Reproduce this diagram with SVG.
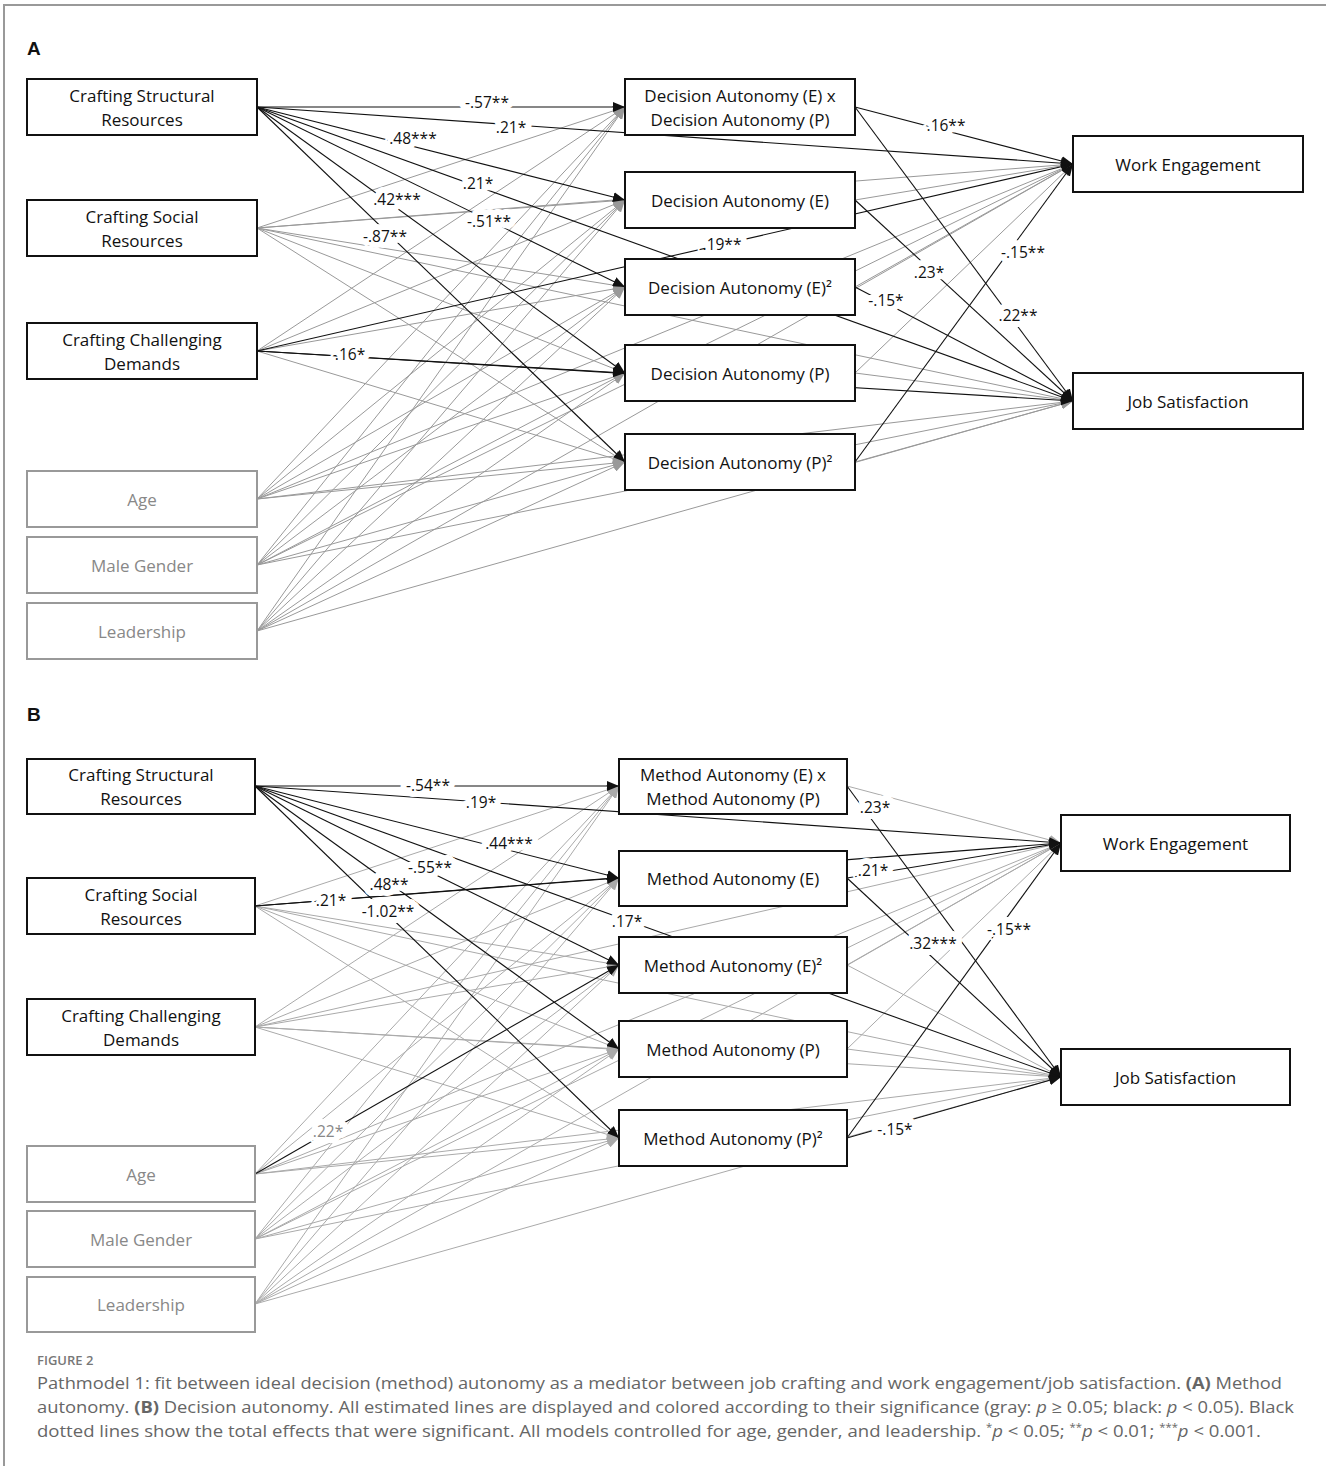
<svg xmlns="http://www.w3.org/2000/svg" width="1326" height="1466" viewBox="0 0 1326 1466">
<defs>
<marker id="ak" viewBox="0 0 12 10" refX="12" refY="5" markerWidth="12" markerHeight="10" markerUnits="userSpaceOnUse" orient="auto"><path d="M0,0 L12,5 L0,10 z" fill="#111"/></marker>
<marker id="ag" viewBox="0 0 12 10" refX="12" refY="5" markerWidth="12" markerHeight="10" markerUnits="userSpaceOnUse" orient="auto"><path d="M0,0 L12,5 L0,10 z" fill="#999"/></marker>
<marker id="agb" viewBox="0 0 12 10" refX="12" refY="5" markerWidth="12" markerHeight="10" markerUnits="userSpaceOnUse" orient="auto"><path d="M0,0 L12,5 L0,10 z" fill="#aaa"/></marker>
</defs>
<style>
.k{stroke:#111;stroke-width:1.1;marker-end:url(#ak)}
.g{stroke:#999;stroke-width:1;marker-end:url(#ag)}
.gb{stroke:#aaa;stroke-width:1;marker-end:url(#agb)}
.box{fill:#fff;stroke:#111;stroke-width:2}
.gbox{fill:#fff;stroke:#999;stroke-width:2}
.nt{font-family:"Open Sans","Liberation Sans",sans-serif;font-size:17px;fill:#111;text-anchor:middle;dominant-baseline:central}
.gt{font-family:"Open Sans","Liberation Sans",sans-serif;font-size:17px;fill:#888;text-anchor:middle;dominant-baseline:central}
.el{font-family:"Open Sans","Liberation Sans",sans-serif;font-size:15.5px;fill:#111;text-anchor:middle;dominant-baseline:central;stroke:#fff;stroke-width:12px;paint-order:stroke;stroke-linejoin:round}
.elg{fill:#888}
.pl{font-family:"Liberation Sans",Arial,sans-serif;font-size:19px;font-weight:bold;fill:#111}
.cap{font-family:"Open Sans","Liberation Sans",sans-serif;font-size:16.5px;fill:#666}
</style>
<rect width="1326" height="1466" fill="#fff"/>
<path d="M4,1466 V5 H1326" fill="none" stroke="#999" stroke-width="2"/>
<text class="pl" x="27" y="55">A</text>
<text class="pl" x="27" y="721">B</text>

<g id="connectors">
<!-- Panel A gray -->
<line class="g" x1="257" y1="228" x2="625" y2="107"/>
<line class="g" x1="257" y1="228" x2="625" y2="200"/>
<line class="g" x1="257" y1="228" x2="625" y2="287"/>
<line class="g" x1="257" y1="228" x2="625" y2="373"/>
<line class="g" x1="257" y1="228" x2="625" y2="462"/>
<line class="g" x1="257" y1="228" x2="1073" y2="164"/>
<line class="g" x1="257" y1="228" x2="1073" y2="401"/>
<line class="g" x1="257" y1="351" x2="625" y2="107"/>
<line class="g" x1="257" y1="351" x2="625" y2="200"/>
<line class="g" x1="257" y1="351" x2="625" y2="287"/>
<line class="g" x1="257" y1="351" x2="625" y2="462"/>
<line class="g" x1="257" y1="499" x2="625" y2="107"/>
<line class="g" x1="257" y1="499" x2="625" y2="200"/>
<line class="g" x1="257" y1="499" x2="625" y2="287"/>
<line class="g" x1="257" y1="499" x2="625" y2="373"/>
<line class="g" x1="257" y1="499" x2="625" y2="462"/>
<line class="g" x1="257" y1="499" x2="1073" y2="164"/>
<line class="g" x1="257" y1="499" x2="1073" y2="401"/>
<line class="g" x1="257" y1="565" x2="625" y2="107"/>
<line class="g" x1="257" y1="565" x2="625" y2="200"/>
<line class="g" x1="257" y1="565" x2="625" y2="287"/>
<line class="g" x1="257" y1="565" x2="625" y2="373"/>
<line class="g" x1="257" y1="565" x2="625" y2="462"/>
<line class="g" x1="257" y1="565" x2="1073" y2="164"/>
<line class="g" x1="257" y1="565" x2="1073" y2="401"/>
<line class="g" x1="257" y1="631" x2="625" y2="107"/>
<line class="g" x1="257" y1="631" x2="625" y2="200"/>
<line class="g" x1="257" y1="631" x2="625" y2="287"/>
<line class="g" x1="257" y1="631" x2="625" y2="373"/>
<line class="g" x1="257" y1="631" x2="625" y2="462"/>
<line class="g" x1="257" y1="631" x2="1073" y2="164"/>
<line class="g" x1="257" y1="631" x2="1073" y2="401"/>
<line class="g" x1="855" y1="200" x2="1073" y2="164"/>
<line class="g" x1="855" y1="287" x2="1073" y2="164"/>
<line class="g" x1="855" y1="373" x2="1073" y2="164"/>
<line class="g" x1="855" y1="373" x2="1073" y2="401"/>
<line class="g" x1="855" y1="462" x2="1073" y2="401"/>
<!-- Panel A black -->
<line class="k" x1="257" y1="107" x2="625" y2="107"/>
<line class="k" x1="257" y1="107" x2="625" y2="200"/>
<line class="k" x1="257" y1="107" x2="625" y2="287"/>
<line class="k" x1="257" y1="107" x2="625" y2="373"/>
<line class="k" x1="257" y1="107" x2="625" y2="462"/>
<line class="k" x1="257" y1="107" x2="1073" y2="164"/>
<line class="k" x1="257" y1="107" x2="1073" y2="401"/>
<line class="k" x1="257" y1="351" x2="625" y2="373"/>
<line class="k" x1="257" y1="351" x2="1073" y2="164"/>
<line class="k" x1="257" y1="351" x2="1073" y2="401"/>
<line class="k" x1="855" y1="107" x2="1073" y2="164"/>
<line class="k" x1="855" y1="107" x2="1073" y2="401"/>
<line class="k" x1="855" y1="200" x2="1073" y2="401"/>
<line class="k" x1="855" y1="287" x2="1073" y2="401"/>
<line class="k" x1="855" y1="462" x2="1073" y2="164"/>
<!-- Panel B gray -->
<line class="gb" x1="255" y1="906" x2="619" y2="786"/>
<line class="gb" x1="255" y1="906" x2="619" y2="965"/>
<line class="gb" x1="255" y1="906" x2="619" y2="1049"/>
<line class="gb" x1="255" y1="906" x2="619" y2="1138"/>
<line class="gb" x1="255" y1="906" x2="1061" y2="1077"/>
<line class="gb" x1="255" y1="1027" x2="619" y2="786"/>
<line class="gb" x1="255" y1="1027" x2="619" y2="878"/>
<line class="gb" x1="255" y1="1027" x2="619" y2="965"/>
<line class="gb" x1="255" y1="1027" x2="619" y2="1049"/>
<line class="gb" x1="255" y1="1027" x2="619" y2="1138"/>
<line class="gb" x1="255" y1="1027" x2="1061" y2="843"/>
<line class="gb" x1="255" y1="1027" x2="1061" y2="1077"/>
<line class="gb" x1="255" y1="1174" x2="619" y2="786"/>
<line class="gb" x1="255" y1="1174" x2="619" y2="878"/>
<line class="gb" x1="255" y1="1174" x2="619" y2="1049"/>
<line class="gb" x1="255" y1="1174" x2="619" y2="1138"/>
<line class="gb" x1="255" y1="1174" x2="1061" y2="843"/>
<line class="gb" x1="255" y1="1174" x2="1061" y2="1077"/>
<line class="gb" x1="255" y1="1239" x2="619" y2="786"/>
<line class="gb" x1="255" y1="1239" x2="619" y2="878"/>
<line class="gb" x1="255" y1="1239" x2="619" y2="965"/>
<line class="gb" x1="255" y1="1239" x2="619" y2="1049"/>
<line class="gb" x1="255" y1="1239" x2="619" y2="1138"/>
<line class="gb" x1="255" y1="1239" x2="1061" y2="843"/>
<line class="gb" x1="255" y1="1239" x2="1061" y2="1077"/>
<line class="gb" x1="255" y1="1304" x2="619" y2="786"/>
<line class="gb" x1="255" y1="1304" x2="619" y2="878"/>
<line class="gb" x1="255" y1="1304" x2="619" y2="965"/>
<line class="gb" x1="255" y1="1304" x2="619" y2="1049"/>
<line class="gb" x1="255" y1="1304" x2="619" y2="1138"/>
<line class="gb" x1="255" y1="1304" x2="1061" y2="843"/>
<line class="gb" x1="255" y1="1304" x2="1061" y2="1077"/>
<line class="gb" x1="847" y1="786" x2="1061" y2="843"/>
<line class="gb" x1="847" y1="965" x2="1061" y2="843"/>
<line class="gb" x1="847" y1="965" x2="1061" y2="1077"/>
<line class="gb" x1="847" y1="1049" x2="1061" y2="843"/>
<line class="gb" x1="847" y1="1049" x2="1061" y2="1077"/>
<!-- Panel B black -->
<line class="k" x1="255" y1="786" x2="619" y2="786"/>
<line class="k" x1="255" y1="786" x2="619" y2="878"/>
<line class="k" x1="255" y1="786" x2="619" y2="965"/>
<line class="k" x1="255" y1="786" x2="619" y2="1049"/>
<line class="k" x1="255" y1="786" x2="619" y2="1138"/>
<line class="k" x1="255" y1="786" x2="1061" y2="843"/>
<line class="k" x1="255" y1="786" x2="1061" y2="1077"/>
<line class="k" x1="255" y1="906" x2="619" y2="878"/>
<line class="k" x1="255" y1="906" x2="1061" y2="843"/>
<line class="k" x1="255" y1="1174" x2="619" y2="965"/>
<line class="k" x1="847" y1="786" x2="1061" y2="1077"/>
<line class="k" x1="847" y1="878" x2="1061" y2="843"/>
<line class="k" x1="847" y1="878" x2="1061" y2="1077"/>
<line class="k" x1="847" y1="1138" x2="1061" y2="843"/>
<line class="k" x1="847" y1="1138" x2="1061" y2="1077"/>
</g>

<!-- Panel A nodes -->
<g id="a-csr"><rect class="box" x="27" y="79" width="230" height="56"/><text class="nt" x="142" y="95">Crafting Structural</text><text class="nt" x="142" y="119">Resources</text></g>
<g id="a-csocr"><rect class="box" x="27" y="200" width="230" height="56"/><text class="nt" x="142" y="216">Crafting Social</text><text class="nt" x="142" y="240">Resources</text></g>
<g id="a-ccd"><rect class="box" x="27" y="323" width="230" height="56"/><text class="nt" x="142" y="339">Crafting Challenging</text><text class="nt" x="142" y="363">Demands</text></g>
<g id="a-age"><rect class="gbox" x="27" y="471" width="230" height="56"/><text class="gt" x="142" y="499">Age</text></g>
<g id="a-gender"><rect class="gbox" x="27" y="537" width="230" height="56"/><text class="gt" x="142" y="565">Male Gender</text></g>
<g id="a-lead"><rect class="gbox" x="27" y="603" width="230" height="56"/><text class="gt" x="142" y="631">Leadership</text></g>
<g id="a-daxp"><rect class="box" x="625" y="79" width="230" height="56"/><text class="nt" x="740" y="95">Decision Autonomy (E) x</text><text class="nt" x="740" y="119">Decision Autonomy (P)</text></g>
<g id="a-dae"><rect class="box" x="625" y="172" width="230" height="56"/><text class="nt" x="740" y="200">Decision Autonomy (E)</text></g>
<g id="a-dae2"><rect class="box" x="625" y="259" width="230" height="56"/><text class="nt" x="740" y="287">Decision Autonomy (E)²</text></g>
<g id="a-dap"><rect class="box" x="625" y="345" width="230" height="56"/><text class="nt" x="740" y="373">Decision Autonomy (P)</text></g>
<g id="a-dap2"><rect class="box" x="625" y="434" width="230" height="56"/><text class="nt" x="740" y="462">Decision Autonomy (P)²</text></g>
<g id="a-we"><rect class="box" x="1073" y="136" width="230" height="56"/><text class="nt" x="1188" y="164">Work Engagement</text></g>
<g id="a-js"><rect class="box" x="1073" y="373" width="230" height="56"/><text class="nt" x="1188" y="401">Job Satisfaction</text></g>

<!-- Panel B nodes -->
<g id="b-csr"><rect class="box" x="27" y="759" width="228" height="55"/><text class="nt" x="141" y="774.5">Crafting Structural</text><text class="nt" x="141" y="798.5">Resources</text></g>
<g id="b-csocr"><rect class="box" x="27" y="878" width="228" height="56"/><text class="nt" x="141" y="894">Crafting Social</text><text class="nt" x="141" y="918">Resources</text></g>
<g id="b-ccd"><rect class="box" x="27" y="999" width="228" height="56"/><text class="nt" x="141" y="1015">Crafting Challenging</text><text class="nt" x="141" y="1039">Demands</text></g>
<g id="b-age"><rect class="gbox" x="27" y="1146" width="228" height="56"/><text class="gt" x="141" y="1174">Age</text></g>
<g id="b-gender"><rect class="gbox" x="27" y="1211" width="228" height="56"/><text class="gt" x="141" y="1239">Male Gender</text></g>
<g id="b-lead"><rect class="gbox" x="27" y="1277" width="228" height="55"/><text class="gt" x="141" y="1304.5">Leadership</text></g>
<g id="b-maxp"><rect class="box" x="619" y="759" width="228" height="55"/><text class="nt" x="733" y="774.5">Method Autonomy (E) x</text><text class="nt" x="733" y="798.5">Method Autonomy (P)</text></g>
<g id="b-mae"><rect class="box" x="619" y="851" width="228" height="55"/><text class="nt" x="733" y="878.5">Method Autonomy (E)</text></g>
<g id="b-mae2"><rect class="box" x="619" y="937" width="228" height="56"/><text class="nt" x="733" y="965">Method Autonomy (E)²</text></g>
<g id="b-map"><rect class="box" x="619" y="1021" width="228" height="56"/><text class="nt" x="733" y="1049">Method Autonomy (P)</text></g>
<g id="b-map2"><rect class="box" x="619" y="1110" width="228" height="56"/><text class="nt" x="733" y="1138">Method Autonomy (P)²</text></g>
<g id="b-we"><rect class="box" x="1061" y="815" width="229" height="56"/><text class="nt" x="1175.5" y="843">Work Engagement</text></g>
<g id="b-js"><rect class="box" x="1061" y="1049" width="229" height="56"/><text class="nt" x="1175.5" y="1077">Job Satisfaction</text></g>

<g id="edge-labels">
<text class="el" x="487" y="102">-.57**</text>
<text class="el" x="511" y="127">.21*</text>
<text class="el" x="413" y="138">.48***</text>
<text class="el" x="478" y="183">.21*</text>
<text class="el" x="397" y="199">.42***</text>
<text class="el" x="489" y="221">-.51**</text>
<text class="el" x="385" y="236">-.87**</text>
<text class="el" x="722" y="244">.19**</text>
<text class="el" x="350" y="354">.16*</text>
<text class="el" x="946" y="125">.16**</text>
<text class="el" x="929" y="272">.23*</text>
<text class="el" x="886" y="300">-.15*</text>
<text class="el" x="1023" y="252">-.15**</text>
<text class="el" x="1018" y="315">.22**</text>
<text class="el" x="428" y="785">-.54**</text>
<text class="el" x="481" y="802">.19*</text>
<text class="el" x="509" y="843">.44***</text>
<text class="el" x="430" y="867">-.55**</text>
<text class="el" x="389" y="884">.48**</text>
<text class="el" x="331" y="900">.21*</text>
<text class="el" x="388" y="911">-1.02**</text>
<text class="el" x="627" y="921">.17*</text>
<text class="el elg" x="328" y="1131">.22*</text>
<text class="el" x="875" y="807">.23*</text>
<text class="el" x="873" y="870">.21*</text>
<text class="el" x="933" y="943">.32***</text>
<text class="el" x="1009" y="929">-.15**</text>
<text class="el" x="895" y="1129">-.15*</text>
</g>

<g id="caption">
<text class="cap" x="37" y="1365" style="font-size:13px;fill:#777;font-weight:600">FIGURE 2</text>
<text class="cap" x="37" y="1389" textLength="1245" lengthAdjust="spacingAndGlyphs">Pathmodel 1: fit between ideal decision (method) autonomy as a mediator between job crafting and work engagement/job satisfaction. <tspan font-weight="bold">(A)</tspan> Method</text>
<text class="cap" x="37" y="1413" textLength="1257" lengthAdjust="spacingAndGlyphs">autonomy. <tspan font-weight="bold">(B)</tspan> Decision autonomy. All estimated lines are displayed and colored according to their significance (gray: <tspan font-style="italic">p</tspan> ≥ 0.05; black: <tspan font-style="italic">p</tspan> &lt; 0.05). Black</text>
<text class="cap" x="37" y="1437" textLength="1224" lengthAdjust="spacingAndGlyphs">dotted lines show the total effects that were significant. All models controlled for age, gender, and leadership. <tspan font-size="10px" dy="-6">*</tspan><tspan font-style="italic" dy="6">p</tspan> &lt; 0.05; <tspan font-size="10px" dy="-6">**</tspan><tspan font-style="italic" dy="6">p</tspan> &lt; 0.01; <tspan font-size="10px" dy="-6">***</tspan><tspan font-style="italic" dy="6">p</tspan> &lt; 0.001.</text>
</g>
</svg>
